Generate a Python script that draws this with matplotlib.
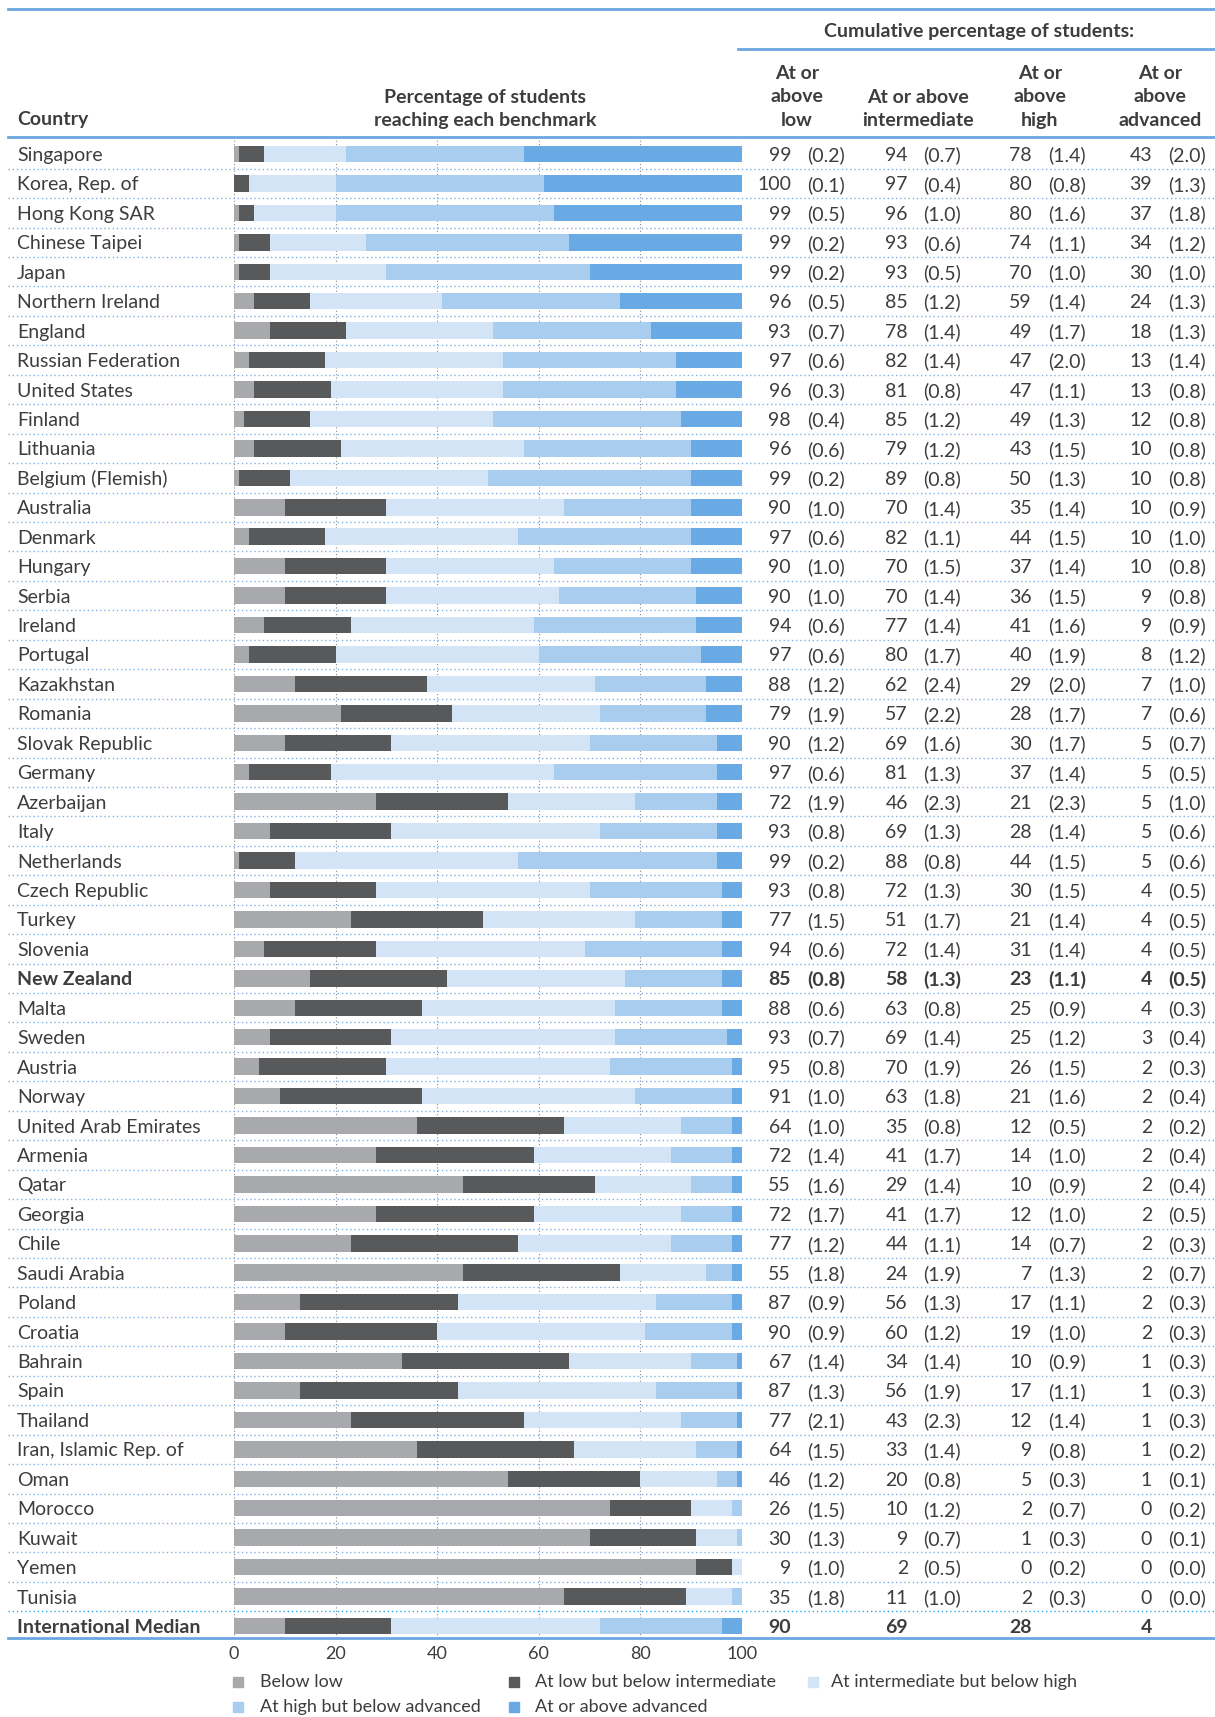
import numpy as np
import matplotlib.pyplot as plt
from matplotlib.transforms import blended_transform_factory
from matplotlib.patches import Rectangle
from matplotlib.lines import Line2D

plt.rcParams['font.family'] = ['Lato', 'DejaVu Sans']

# ---- data (cumulative % of students, with standard errors) ----
countries = ['Singapore', 'Korea, Rep. of', 'Hong Kong SAR', 'Chinese Taipei', 'Japan',
             'Northern Ireland', 'England', 'Russian Federation', 'United States', 'Finland',
             'Lithuania', 'Belgium (Flemish)', 'Australia', 'Denmark', 'Hungary',
             'Serbia', 'Ireland', 'Portugal', 'Kazakhstan', 'Romania',
             'Slovak Republic', 'Germany', 'Azerbaijan', 'Italy', 'Netherlands',
             'Czech Republic', 'Turkey', 'Slovenia', 'New Zealand', 'Malta',
             'Sweden', 'Austria', 'Norway', 'United Arab Emirates', 'Armenia',
             'Qatar', 'Georgia', 'Chile', 'Saudi Arabia', 'Poland',
             'Croatia', 'Bahrain', 'Spain', 'Thailand', 'Iran, Islamic Rep. of',
             'Oman', 'Morocco', 'Kuwait', 'Yemen', 'Tunisia']
low = [99, 100, 99, 99, 99, 96, 93, 97, 96, 98,
       96, 99, 90, 97, 90, 90, 94, 97, 88, 79,
       90, 97, 72, 93, 99, 93, 77, 94, 85, 88,
       93, 95, 91, 64, 72, 55, 72, 77, 55, 87,
       90, 67, 87, 77, 64, 46, 26, 30, 9, 35]
low_se = [0.2, 0.1, 0.5, 0.2, 0.2, 0.5, 0.7, 0.6, 0.3, 0.4,
          0.6, 0.2, 1.0, 0.6, 1.0, 1.0, 0.6, 0.6, 1.2, 1.9,
          1.2, 0.6, 1.9, 0.8, 0.2, 0.8, 1.5, 0.6, 0.8, 0.6,
          0.7, 0.8, 1.0, 1.0, 1.4, 1.6, 1.7, 1.2, 1.8, 0.9,
          0.9, 1.4, 1.3, 2.1, 1.5, 1.2, 1.5, 1.3, 1.0, 1.8]
inter = [94, 97, 96, 93, 93, 85, 78, 82, 81, 85,
         79, 89, 70, 82, 70, 70, 77, 80, 62, 57,
         69, 81, 46, 69, 88, 72, 51, 72, 58, 63,
         69, 70, 63, 35, 41, 29, 41, 44, 24, 56,
         60, 34, 56, 43, 33, 20, 10, 9, 2, 11]
inter_se = [0.7, 0.4, 1.0, 0.6, 0.5, 1.2, 1.4, 1.4, 0.8, 1.2,
            1.2, 0.8, 1.4, 1.1, 1.5, 1.4, 1.4, 1.7, 2.4, 2.2,
            1.6, 1.3, 2.3, 1.3, 0.8, 1.3, 1.7, 1.4, 1.3, 0.8,
            1.4, 1.9, 1.8, 0.8, 1.7, 1.4, 1.7, 1.1, 1.9, 1.3,
            1.2, 1.4, 1.9, 2.3, 1.4, 0.8, 1.2, 0.7, 0.5, 1.0]
high = [78, 80, 80, 74, 70, 59, 49, 47, 47, 49,
        43, 50, 35, 44, 37, 36, 41, 40, 29, 28,
        30, 37, 21, 28, 44, 30, 21, 31, 23, 25,
        25, 26, 21, 12, 14, 10, 12, 14, 7, 17,
        19, 10, 17, 12, 9, 5, 2, 1, 0, 2]
high_se = [1.4, 0.8, 1.6, 1.1, 1.0, 1.4, 1.7, 2.0, 1.1, 1.3,
           1.5, 1.3, 1.4, 1.5, 1.4, 1.5, 1.6, 1.9, 2.0, 1.7,
           1.7, 1.4, 2.3, 1.4, 1.5, 1.5, 1.4, 1.4, 1.1, 0.9,
           1.2, 1.5, 1.6, 0.5, 1.0, 0.9, 1.0, 0.7, 1.3, 1.1,
           1.0, 0.9, 1.1, 1.4, 0.8, 0.3, 0.7, 0.3, 0.2, 0.3]
adv = [43, 39, 37, 34, 30, 24, 18, 13, 13, 12,
       10, 10, 10, 10, 10, 9, 9, 8, 7, 7,
       5, 5, 5, 5, 5, 4, 4, 4, 4, 4,
       3, 2, 2, 2, 2, 2, 2, 2, 2, 2,
       2, 1, 1, 1, 1, 1, 0, 0, 0, 0]
adv_se = [2.0, 1.3, 1.8, 1.2, 1.0, 1.3, 1.3, 1.4, 0.8, 0.8,
          0.8, 0.8, 0.9, 1.0, 0.8, 0.8, 0.9, 1.2, 1.0, 0.6,
          0.7, 0.5, 1.0, 0.6, 0.6, 0.5, 0.5, 0.5, 0.5, 0.3,
          0.4, 0.3, 0.4, 0.2, 0.4, 0.4, 0.5, 0.3, 0.7, 0.3,
          0.3, 0.3, 0.3, 0.3, 0.2, 0.1, 0.2, 0.1, 0.0, 0.0]
median_label = 'International Median'
median_vals = [90, 69, 28, 4]
bold_countries = ['New Zealand']

seg_labels = ['Below low', 'At low but below intermediate', 'At intermediate but below high',
              'At high but below advanced', 'At or above advanced']
seg_colors = ['#a7a9ac', '#58595b', '#d2e4f5', '#a8cdef', '#6aaae4']
xticks = [0, 20, 40, 60, 80, 100]

# ---- derived ----
names = countries + [median_label]
cum = np.array([low + [median_vals[0]], inter + [median_vals[1]],
                high + [median_vals[2]], adv + [median_vals[3]]], dtype=float)
segs = [100 - cum[0], cum[0] - cum[1], cum[1] - cum[2], cum[2] - cum[3], cum[3]]
ses = [low_se, inter_se, high_se, adv_se]
n = len(names)
rows = np.arange(n)

W, H = 1215, 1717
txt = '#3d3d3d'
blue = '#6ca6e0'
fig = plt.figure(figsize=(W / 100, H / 100), dpi=100)

# row geometry (pixels)
y0, pitch = 154, 29.44
top_px, bot_px = 137, 1638
ax = fig.add_axes([234 / W, 1 - bot_px / H, (742 - 234) / W, (bot_px - top_px) / H])
ax.set_xlim(0, 100)
ax.set_ylim((bot_px - y0) / pitch, (top_px - y0) / pitch)

left = np.zeros(n)
for s, c, lab in zip(segs, seg_colors, seg_labels):
    ax.barh(rows, s, left=left, height=0.56, color=c, label=lab, zorder=2)
    left += s

ax.set_xticks(xticks)
ax.set_xticklabels([str(t) for t in xticks])
ax.set_yticks([])
ax.tick_params(axis='x', length=0, pad=6, labelsize=13, labelcolor=txt)
ax.grid(axis='x', linestyle=(0, (1, 2)), color='#8a8a8a', lw=0.8)
ax.set_axisbelow(True)
for sp in ax.spines.values():
    sp.set_visible(False)

# overlay in pixel coords
ov = fig.add_axes([0, 0, 1, 1], facecolor='none')
ov.set_xlim(0, W)
ov.set_ylim(H, 0)
ov.axis('off')
tr = blended_transform_factory(ov.transData, ax.transData)

# rule lines
ov.plot([8, W], [9, 9], color=blue, lw=2)
ov.plot([738, W], [49, 49], color=blue, lw=2)
ov.plot([8, W], [top_px, top_px], color=blue, lw=2)
ov.plot([8, W], [bot_px, bot_px], color=blue, lw=2)
for i in range(n - 1):
    col = '#29a8e8' if i == n - 2 else '#7fb2e3'
    ov.add_line(Line2D([8, W], [i + 0.5, i + 0.5], transform=tr, color=col,
                       lw=1, linestyle=(0, (1, 2))))

# headers
hfs = 14
hw = 'bold'
ov.text(17, 120, 'Country', fontsize=hfs, fontweight=hw, color=txt, va='center')
ov.text(485, 109, 'Percentage of students\nreaching each benchmark', fontsize=hfs,
        fontweight=hw, color=txt, ha='center', va='center', linespacing=1.48)
ov.text(979, 32, 'Cumulative percentage of students:', fontsize=hfs, fontweight=hw,
        color=txt, ha='center', va='center')
col_heads = ['At or\nabove\nlow', 'At or above\nintermediate', 'At or\nabove\nhigh',
             'At or\nabove\nadvanced']
col_cx = [797, 918, 1040, 1160]
for h, cx in zip(col_heads, col_cx):
    nl = h.count('\n') + 1
    cy = 121 - (nl - 1) * 24 / 2
    ov.text(cx, cy, h, fontsize=hfs, fontweight=hw, color=txt, ha='center',
            va='center', linespacing=1.48)

# rows
num_right = [791, 908, 1032, 1152]
se_left = [807, 923, 1048, 1168]
fs = 14
for i, name in enumerate(names):
    is_bold = name in bold_countries or name == median_label
    w = 'bold' if is_bold else 'normal'
    ov.text(17, i, name, transform=tr, fontsize=fs, fontweight=w, color=txt,
            va='center_baseline')
    for k in range(4):
        ov.text(num_right[k], i, '%d' % cum[k][i], transform=tr, fontsize=fs,
                fontweight=w, color=txt, ha='right', va='center_baseline')
        if name != median_label:
            ov.text(se_left[k], i, '(%.1f)' % ses[k][i], transform=tr, fontsize=fs,
                    fontweight=w, color=txt, ha='left', va='center_baseline')

# legend
leg_pos = [(233, 260, 1682), (509, 535, 1682), (808, 831, 1682),
           (233, 260, 1707), (509, 535, 1707)]
for (sx, tx, ly), c, lab in zip(leg_pos, seg_colors, seg_labels):
    ov.add_patch(Rectangle((sx, ly - 5), 10, 10, color=c))
    ov.text(tx, ly, lab, fontsize=13, color=txt, va='center')

fig.savefig('out.png', dpi=100)
